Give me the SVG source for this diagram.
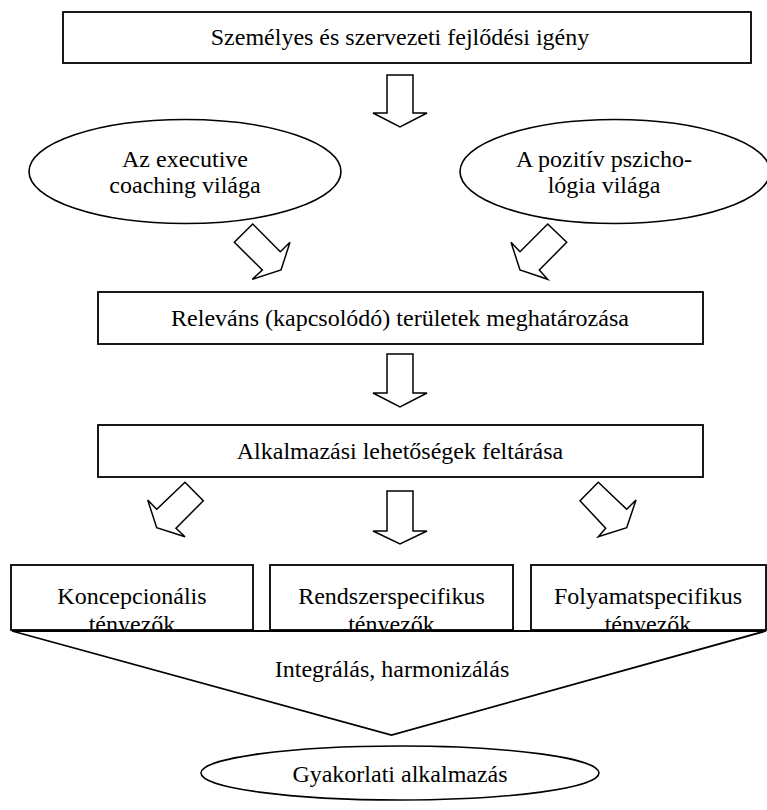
<svg xmlns="http://www.w3.org/2000/svg" width="767" height="810" viewBox="0 0 767 810">
<style>
.box{fill:#fff;stroke:#000;stroke-width:1.8}
.ell{fill:#fff;stroke:#000;stroke-width:1.6}
.arr{fill:#fff;stroke:#000;stroke-width:1.5;stroke-linejoin:miter}
.t{font-family:"Liberation Serif","DejaVu Serif","Times New Roman",serif;font-size:24px;fill:#000;text-anchor:middle}
</style>
<defs>
<clipPath id="c1"><rect x="12" y="566" width="240" height="63"/></clipPath>
<clipPath id="c2"><rect x="271" y="566" width="241" height="63"/></clipPath>
<clipPath id="c3"><rect x="532" y="566" width="234" height="63"/></clipPath>
</defs>
<rect width="767" height="810" fill="#fff"/>
<g id="n-need">
<rect class="box" x="63" y="12" width="688" height="51"/>
<text class="t" x="400" y="45">Személyes és szervezeti fejlődési igény</text>
</g>
<g id="n-coaching">
<ellipse class="ell" cx="185" cy="171.5" rx="156" ry="52"/>
<text class="t" x="185" y="167">Az executive</text>
<text class="t" x="185" y="193">coaching világa</text>
</g>
<g id="n-positive">
<ellipse class="ell" cx="615" cy="171.5" rx="155" ry="52"/>
<text class="t" x="604" y="167">A pozitív pszicho-</text>
<text class="t" x="604" y="193">lógia világa</text>
</g>
<g id="n-relevant">
<rect class="box" x="98" y="292" width="605" height="52"/>
<text class="t" x="400" y="326">Releváns (kapcsolódó) területek meghatározása</text>
</g>
<g id="n-explore">
<rect class="box" x="98" y="425" width="605" height="52"/>
<text class="t" x="400" y="459">Alkalmazási lehetőségek feltárása</text>
</g>
<g id="n-concept">
<rect class="box" x="11" y="565" width="242" height="65"/>
<g clip-path="url(#c1)">
<text class="t" x="132" y="604">Koncepcionális</text>
<text class="t" x="132" y="632">tényezők</text>
</g>
</g>
<g id="n-system">
<rect class="box" x="270" y="565" width="243" height="65"/>
<g clip-path="url(#c2)">
<text class="t" x="391.5" y="604">Rendszerspecifikus</text>
<text class="t" x="391.5" y="632">tényezők</text>
</g>
</g>
<g id="n-process">
<rect class="box" x="531" y="565" width="235" height="65"/>
<g clip-path="url(#c3)">
<text class="t" x="648" y="604">Folyamatspecifikus</text>
<text class="t" x="648" y="632">tényezők</text>
</g>
</g>
<g id="n-integrate">
<polygon class="box" points="12,631 766,631 391.5,735"/>
<text class="t" x="392" y="677">Integrálás, harmonizálás</text>
</g>
<g id="n-practice">
<ellipse class="ell" cx="400" cy="773" rx="199" ry="27"/>
<text class="t" x="400" y="782">Gyakorlati alkalmazás</text>
</g>
<g id="connectors">
<polygon class="arr" points="387,75 413,75 413,113 427,113 400,127 373,113 387,113"/>
<polygon class="arr" points="252.7,224 280.3,251.7 290,242.3 281,270 252.3,279.3 262.3,270 234.3,242.3"/>
<polygon class="arr" points="547.7,224 566.7,242.3 539.3,270 547.7,279.3 520,270 511,242.3 520,251.7"/>
<polygon class="arr" points="387,354 413,354 413,393 427,393 400,407 373,393 387,393"/>
<polygon class="arr" points="185,482.3 203.3,500.7 176,528.3 185,536.7 156.7,527.7 147.7,500 156.7,509.3"/>
<polygon class="arr" points="387,491 413,491 413,531 427,531 400,544 373,531 387,531"/>
<polygon class="arr" points="598.3,482.3 580,500.7 605.7,528.3 598.3,536.7 626.7,527.7 636,500 626.7,509.3"/>
</g>
</svg>
